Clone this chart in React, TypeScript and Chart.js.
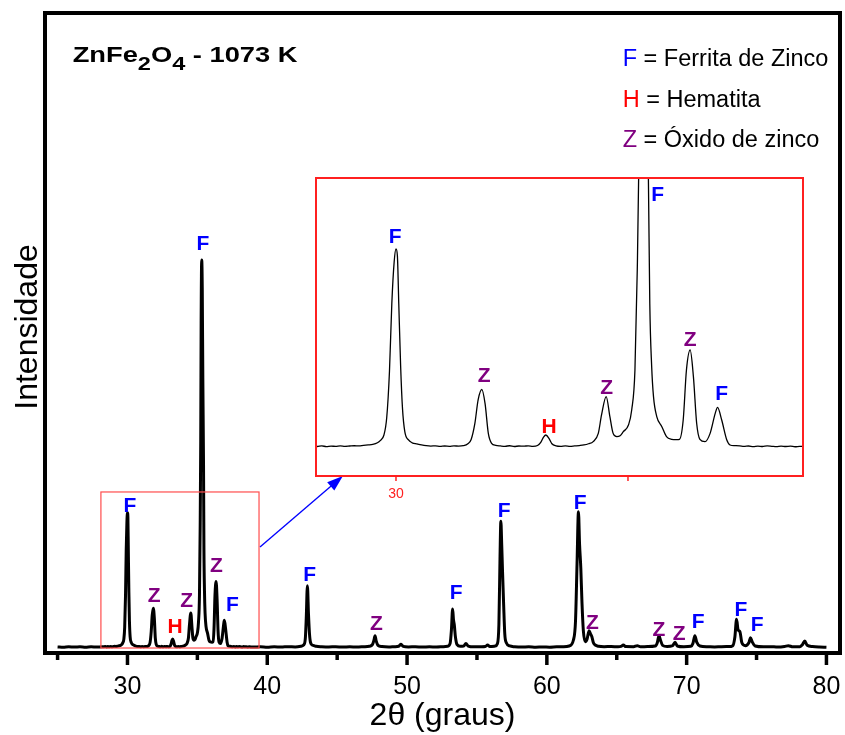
import React, { useEffect, useRef } from 'react';
import { Chart, registerables } from 'chart.js';

Chart.register(...registerables);

const FONT = '"Liberation Sans", Arial, Helvetica, sans-serif';

// 2θ (graus) and intensity (a.u.)
const twoTheta = [
  25.0, 25.4, 25.8, 26.2, 26.6, 27.0, 27.4, 27.8, 28.2,
  28.3, 28.4, 28.5, 28.6, 28.7, 28.8, 28.9, 29.0, 29.1, 29.2,
  29.3, 29.4, 29.5, 29.6, 29.66, 29.74, 29.8, 29.86, 29.91, 29.96,
  30.0, 30.03, 30.06, 30.1, 30.14, 30.19, 30.27, 30.35, 30.45, 30.55,
  30.65, 30.75, 30.85, 30.95, 31.05, 31.15, 31.25, 31.35, 31.45, 31.55,
  31.62, 31.7, 31.77, 31.85, 31.92, 31.99, 32.06, 32.15, 32.25, 32.35,
  32.45, 32.55, 32.65, 32.75, 32.85, 32.95, 33.05, 33.12, 33.18, 33.23,
  33.3, 33.36, 33.45, 33.55, 33.65, 33.75, 33.85, 33.95, 34.05, 34.15,
  34.25, 34.36, 34.43, 34.53, 34.61, 34.68, 34.76, 34.83, 34.9, 35.01,
  35.08, 35.15, 35.2, 35.24, 35.27, 35.31, 35.35, 35.39, 35.44, 35.47,
  35.51, 35.55, 35.62, 35.73, 35.83, 35.94, 36.05, 36.11, 36.19, 36.26,
  36.34, 36.41, 36.48, 36.55, 36.66, 36.77, 36.88, 36.93, 37.02, 37.13,
  37.2, 37.3, 37.41, 37.5, 37.6, 37.7, 37.8, 37.9, 38.0, 38.1,
  38.2, 38.3, 38.4, 38.5, 38.6, 38.7, 38.8,
  39.0, 39.5, 40.0, 40.5, 41.0, 41.5, 42.0, 42.4, 42.6, 42.72,
  42.79, 42.87, 42.95, 43.02, 43.1, 43.25, 43.5, 43.9, 44.4, 44.9,
  45.4, 45.9, 46.4, 46.9, 47.3, 47.52, 47.63, 47.71, 47.79, 47.92,
  48.2, 48.7, 49.1, 49.4, 49.57, 49.72, 50.1, 50.6, 51.1, 51.6,
  52.1, 52.6, 52.9, 53.08, 53.17, 53.26, 53.32, 53.38, 53.46, 53.58,
  53.8, 54.05, 54.21, 54.37, 54.8, 55.3, 55.6, 55.76, 55.92, 56.3,
  56.45, 56.57, 56.65, 56.71, 56.77, 56.83, 56.91, 56.99, 57.1, 57.35,
  57.7, 58.2, 58.7, 59.2, 59.7, 60.2, 60.7, 61.2, 61.6, 61.9,
  62.05, 62.16, 62.26, 62.34, 62.43, 62.51, 62.61, 62.75, 62.88, 63.02,
  63.12, 63.22, 63.33, 63.46, 63.7, 64.1, 64.6, 65.1, 65.3, 65.47,
  65.65, 66.2, 66.47, 66.7, 67.2, 67.75, 67.9, 68.02, 68.13, 68.28,
  68.6, 69.0, 69.17, 69.33, 69.8, 70.3, 70.45, 70.59, 70.72, 70.95,
  71.5, 72.0, 72.5, 73.0, 73.3, 73.45, 73.57, 73.68, 73.81, 73.95,
  74.2, 74.45, 74.57, 74.7, 74.9, 75.5, 76.0, 76.5, 77.0, 77.27,
  77.6, 78.1, 78.28, 78.45, 78.62, 79.0, 79.5, 80.0,
];

const intensity = [
  9.5, 9.0, 9.8, 9.2, 9.6, 9.0, 9.7, 9.3, 9.8,
  9.6, 10.2, 9.5, 10.0, 9.7, 10.3, 9.8, 10.1, 10.4, 10.2,
  10.8, 11.2, 11.8, 13.5, 15.8, 21.8, 40, 90, 161, 205,
  219, 212, 161, 95, 50, 25.3, 16.5, 13.5, 12.3, 11.2,
  10.4, 10.0, 10.3, 9.7, 10.1, 9.8, 10.2, 10.0, 10.4, 12.5,
  17, 34, 59, 70, 55, 23.5, 13, 10.8, 10.2, 9.8,
  10.4, 9.6, 10.1, 9.9, 10.3, 9.7, 10.6, 14, 19.5, 21.8,
  18, 12.5, 10.2, 9.7, 10.3, 9.8, 10.2, 10.6, 11.2, 12.5,
  14.7, 23.5, 43, 62.5, 41.3, 23.5, 20, 21, 25.3, 32.3,
  48.3, 90.7, 196.8, 330, 520, 614, 570, 430, 294, 161,
  95, 62.5, 41.3, 30.6, 20, 17.2, 16.8, 17.2, 37.7, 90.7,
  111.9, 83.7, 34.2, 17.2, 14.7, 23.5, 44.7, 51.1, 37.7, 16.5,
  11.2, 10.5, 10.2, 9.7, 10.1, 9.5, 10.0, 9.6, 10.2, 9.8,
  9.4, 10.0, 9.6, 9.9, 9.3, 9.8, 9.5,
  9.2, 9.8, 9.0, 9.6, 9.3, 9.9, 9.5, 10.5, 12.5, 22,
  55, 105, 60, 30, 16, 12, 10.5, 9.8, 9.4, 9.8,
  9.2, 9.7, 9.3, 9.8, 10.5, 13, 20, 27, 19, 12,
  10, 9.4, 9.9, 10.5, 13.5, 10.3, 9.5, 9.8, 9.2, 9.7,
  9.4, 9.9, 10.5, 15, 35, 68.75, 52, 43.75, 25, 13,
  10.5, 10.8, 15, 10.8, 9.6, 9.9, 10.2, 12.5, 10, 10.8,
  14, 45, 150, 206, 170, 127, 75, 30, 16, 11,
  9.8, 9.2, 9.6, 9.0, 9.5, 9.1, 9.6, 9.8, 11, 20.3,
  50, 140, 220.8, 170, 132, 80, 35, 17.7, 22, 34.9,
  30, 25.5, 16, 12.5, 10.5, 9.8, 10.2, 9.6, 10.2, 12.5,
  10, 9.8, 11.5, 9.7, 10, 10.8, 16, 27, 20, 12,
  10.2, 11.5, 16.7, 11, 9.8, 10.4, 15, 27, 17, 11,
  9.8, 9.4, 9.9, 10, 11.5, 25, 52.6, 36, 33.3, 16,
  11.5, 16, 24, 17, 11, 9.6, 9.9, 9.3, 10.2, 11.5,
  9.6, 9.8, 13, 18.75, 12, 10, 9.3, 9.0,
];

// x-axis ticks (every 5°, labelled every 10°)
const xTickValues = [25, 30, 35, 40, 45, 50, 55, 60, 65, 70, 75, 80];
const xTickLabels = ['', '30', '', '40', '', '50', '', '60', '', '70', '', '80'];

// Phase identification marks on the main pattern
const mainMarkLetters = ['F', 'Z', 'H', 'Z', 'F', 'Z', 'F', 'F', 'Z', 'F', 'F', 'F', 'Z', 'Z', 'Z', 'F', 'F', 'F'];
const mainMarkTheta = [30.17, 31.91, 33.41, 34.24, 35.4, 36.36, 37.5, 43.03, 47.81, 53.52, 56.95, 62.38, 63.26, 68.02, 69.47, 70.83, 73.88, 75.04];
const mainMarkLevel = [220, 80, 31, 72, 630, 126, 66, 113, 36, 84, 213, 224.5, 37, 26.5, 20.3, 38.6, 57.8, 34.8];

// Phase marks in the zoomed inset
const insetMarkLetters = ['F', 'Z', 'H', 'Z', 'F', 'Z', 'F'];
const insetMarkTheta = [29.98, 31.9, 33.3, 34.54, 35.64, 36.34, 37.02];
const insetMarkLevel = [225.7, 77.7, 23.6, 65.3, 270, 116.5, 58.9];
const insetTickValues = [30, 35];
const insetTickLabels = ['30', ''];

// Legend
const legendLetters = ['F', 'H', 'Z'];
const legendNames = ['Ferrita de Zinco', 'Hematita', 'Óxido de zinco'];
const phaseColors: Record<string, string> = { F: '#0000ff', H: '#ff0000', Z: '#800080' };

// zoom box on the main pattern (2θ range, intensity range) and arrow
const zoomBoxTheta = [28.1, 39.41];
const zoomBoxLevel = [7.8, 251.6];
const arrowTheta = [39.48, 45.41];
const arrowLevel = [165.6, 276.6];

const titleParts = [
  { t: 'ZnFe', sub: false },
  { t: '2', sub: true },
  { t: 'O', sub: false },
  { t: '4', sub: true },
  { t: ' - 1073 K', sub: false },
];

function drawMarks(ctx: CanvasRenderingContext2D, x: any, y: any, letters: string[], th: number[], lv: number[]) {
  ctx.font = `bold 21px ${FONT}`;
  ctx.textAlign = 'center';
  ctx.textBaseline = 'alphabetic';
  letters.forEach((l, i) => {
    ctx.fillStyle = phaseColors[l];
    ctx.fillText(l, x.getPixelForValue(th[i]), y.getPixelForValue(lv[i]));
  });
}

const mainPlugin = {
  id: 'mainDecor',
  afterDraw(chart: any) {
    const { ctx, chartArea: a } = chart;
    const x = chart.scales.x;
    const y = chart.scales.y;
    ctx.save();
    // zoom box
    ctx.strokeStyle = '#ff4d4d';
    ctx.lineWidth = 1.2;
    const bx0 = x.getPixelForValue(zoomBoxTheta[0]);
    const bx1 = x.getPixelForValue(zoomBoxTheta[1]);
    const by0 = y.getPixelForValue(zoomBoxLevel[0]);
    const by1 = y.getPixelForValue(zoomBoxLevel[1]);
    ctx.strokeRect(bx0, by1, bx1 - bx0, by0 - by1);
    // arrow
    const ax0 = x.getPixelForValue(arrowTheta[0]);
    const ay0 = y.getPixelForValue(arrowLevel[0]);
    const ax1 = x.getPixelForValue(arrowTheta[1]);
    const ay1 = y.getPixelForValue(arrowLevel[1]);
    const ang = Math.atan2(ay1 - ay0, ax1 - ax0);
    ctx.strokeStyle = '#0000ff';
    ctx.fillStyle = '#0000ff';
    ctx.lineWidth = 1.4;
    ctx.beginPath();
    ctx.moveTo(ax0, ay0);
    ctx.lineTo(ax1 - 12 * Math.cos(ang), ay1 - 12 * Math.sin(ang));
    ctx.stroke();
    ctx.beginPath();
    ctx.moveTo(ax1, ay1);
    ctx.lineTo(ax1 - 16 * Math.cos(ang) + 5.5 * Math.sin(ang), ay1 - 16 * Math.sin(ang) - 5.5 * Math.cos(ang));
    ctx.lineTo(ax1 - 16 * Math.cos(ang) - 5.5 * Math.sin(ang), ay1 - 16 * Math.sin(ang) + 5.5 * Math.cos(ang));
    ctx.closePath();
    ctx.fill();
    // phase marks
    drawMarks(ctx, x, y, mainMarkLetters, mainMarkTheta, mainMarkLevel);
    // frame
    ctx.strokeStyle = '#000';
    ctx.lineWidth = 4;
    ctx.strokeRect(a.left, a.top, a.right - a.left, a.bottom - a.top);
    // ticks
    ctx.lineWidth = 3.5;
    xTickValues.forEach((t, i) => {
      const px = x.getPixelForValue(t);
      ctx.beginPath();
      ctx.moveTo(px, a.bottom);
      ctx.lineTo(px, a.bottom + (xTickLabels[i] ? 12 : 7));
      ctx.stroke();
    });
    ctx.fillStyle = '#000';
    ctx.font = `25px ${FONT}`;
    ctx.textAlign = 'center';
    ctx.textBaseline = 'alphabetic';
    xTickValues.forEach((t, i) => {
      if (xTickLabels[i]) ctx.fillText(xTickLabels[i], x.getPixelForValue(t), a.bottom + 41);
    });
    // axis titles
    ctx.font = `32px ${FONT}`;
    ctx.fillText('2θ (graus)', (a.left + a.right) / 2, a.bottom + 72);
    ctx.save();
    ctx.translate(37, 327);
    ctx.rotate(-Math.PI / 2);
    ctx.fillText('Intensidade', 0, 0);
    ctx.restore();
    // sample title (slightly widened as in the original figure)
    ctx.save();
    ctx.translate(72.7, 0);
    ctx.scale(1.24, 1);
    let cx = 0;
    ctx.textAlign = 'left';
    titleParts.forEach((p) => {
      ctx.font = p.sub ? `bold 19px ${FONT}` : `bold 22px ${FONT}`;
      ctx.fillText(p.t, cx, p.sub ? 69.5 : 61.7);
      cx += ctx.measureText(p.t).width;
    });
    ctx.restore();
    // legend
    const rowsY = [65.5, 106.5, 147];
    ctx.textAlign = 'left';
    legendLetters.forEach((l, i) => {
      ctx.font = `23.5px ${FONT}`;
      ctx.fillStyle = phaseColors[l];
      ctx.fillText(l, 622.7, rowsY[i]);
      const w = ctx.measureText(l).width;
      ctx.fillStyle = '#000';
      ctx.fillText(' = ' + legendNames[i], 622.7 + w, rowsY[i]);
    });
    ctx.restore();
  },
};

const insetPlugin = {
  id: 'insetDecor',
  beforeDraw(chart: any) {
    const { ctx, chartArea: a } = chart;
    ctx.save();
    ctx.fillStyle = '#ffffff';
    ctx.fillRect(a.left, a.top, a.right - a.left, a.bottom - a.top);
    ctx.restore();
  },
  afterDraw(chart: any) {
    const { ctx, chartArea: a } = chart;
    const x = chart.scales.x;
    const y = chart.scales.y;
    ctx.save();
    drawMarks(ctx, x, y, insetMarkLetters, insetMarkTheta, insetMarkLevel);
    ctx.strokeStyle = '#ff2020';
    ctx.lineWidth = 2;
    ctx.strokeRect(a.left, a.top, a.right - a.left, a.bottom - a.top);
    ctx.lineWidth = 1.5;
    ctx.fillStyle = '#ff2020';
    ctx.font = `14px ${FONT}`;
    ctx.textAlign = 'center';
    insetTickValues.forEach((t, i) => {
      const px = x.getPixelForValue(t);
      ctx.beginPath();
      ctx.moveTo(px, a.bottom);
      ctx.lineTo(px, a.bottom + 5);
      ctx.stroke();
      if (insetTickLabels[i]) ctx.fillText(insetTickLabels[i], px, a.bottom + 22);
    });
    ctx.restore();
  },
};

export default function App() {
  const mainRef = useRef<HTMLCanvasElement>(null);
  const insetRef = useRef<HTMLCanvasElement>(null);

  useEffect(() => {
    document.body.style.margin = '0';
    const points = twoTheta.map((t, i) => ({ x: t, y: intensity[i] }));
    const common = {
      responsive: false,
      animation: false as const,
      events: [] as any[],
      plugins: { legend: { display: false }, tooltip: { enabled: false }, title: { display: false } },
      elements: { point: { radius: 0 } },
    };
    const main = new Chart(mainRef.current!, {
      type: 'line',
      data: {
        datasets: [{
          data: points,
          borderColor: '#000',
          borderWidth: 3,
          pointRadius: 0,
          cubicInterpolationMode: 'monotone',
          fill: false,
        }],
      },
      options: {
        ...common,
        layout: { padding: { left: 45, top: 13, right: 5, bottom: 82 } },
        scales: {
          x: { type: 'linear', min: 24.1, max: 80.97, display: false },
          y: { type: 'linear', min: 0, max: 1000, display: false },
        },
      },
      plugins: [mainPlugin],
    } as any);
    const inset = new Chart(insetRef.current!, {
      type: 'line',
      data: {
        datasets: [{
          data: points,
          borderColor: '#000',
          borderWidth: 1.3,
          pointRadius: 0,
          cubicInterpolationMode: 'monotone',
          fill: false,
        }],
      },
      options: {
        ...common,
        layout: { padding: { left: 10, top: 10, right: 13, bottom: 32 } },
        scales: {
          x: { type: 'linear', min: 28.276, max: 38.772, display: false },
          y: { type: 'linear', min: -21.7, max: 294.3, display: false },
        },
      },
      plugins: [insetPlugin],
    } as any);
    return () => {
      main.destroy();
      inset.destroy();
    };
  }, []);

  return (
    <div style={{ position: 'fixed', left: 0, top: 0, width: 845, height: 735, background: '#ffffff' }}>
      <canvas ref={mainRef} width={845} height={735} style={{ position: 'absolute', left: 0, top: 0 }} />
      <canvas ref={insetRef} width={510} height={340} style={{ position: 'absolute', left: 306, top: 168 }} />
    </div>
  );
}
